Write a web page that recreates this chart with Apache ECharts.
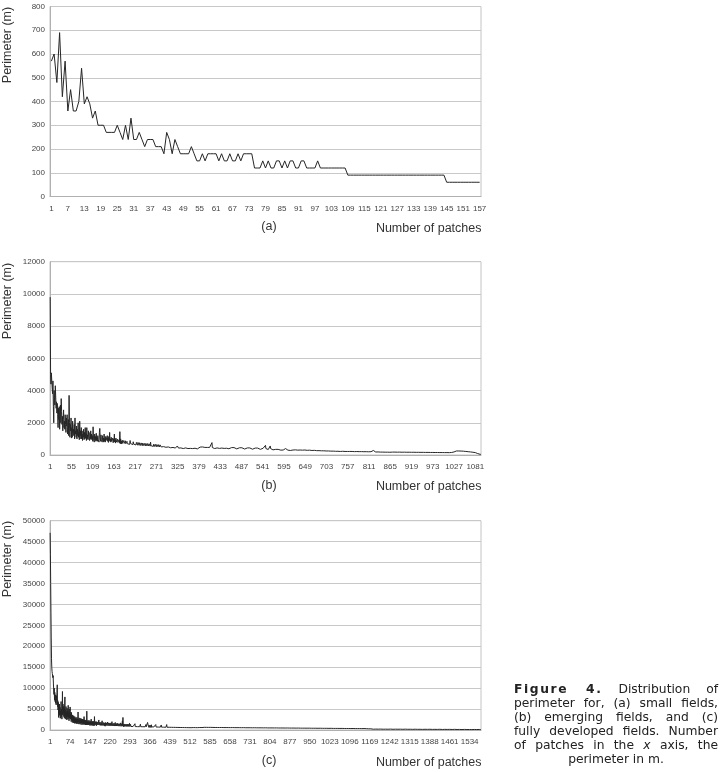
<!DOCTYPE html>
<html>
<head>
<meta charset="utf-8">
<script src="https://cdn.jsdelivr.net/npm/echarts/dist/echarts.min.js"></script>
<style>
html,body{margin:0;padding:0;background:#fff;}
#chart{position:absolute;left:0;top:0;width:721px;height:773px;}
#caption{position:absolute;left:514px;top:683px;width:204px;font-family:"DejaVu Sans",Verdana,sans-serif;font-size:12.3px;line-height:13.9px;color:#222;}
#caption div{text-align:justify;text-align-last:justify;white-space:nowrap;}
#caption div.last{text-align:center;text-align-last:center;}
</style>
</head>
<body>
<div id="chart"></div>
<div id="caption">
<div><b style="letter-spacing:1.6px">Figure 4.</b> Distribution of</div>
<div>perimeter for, (a) small fields,</div>
<div>(b) emerging fields, and (c)</div>
<div>fully developed fields. Number</div>
<div>of patches in the <i>x</i> axis, the</div>
<div class="last">perimeter in m.</div>
</div>
<script>
// Panel (a): small fields, perimeter (m) per patch
var perimA = [
570,600,480,690,420,570,360,450,360,360,
400,540,390,420,390,330,360,300,300,300,
270,270,270,270,300,270,240,300,240,330,
240,240,270,240,210,240,240,240,210,210,
210,180,270,240,180,240,210,180,180,180,
180,210,180,150,150,180,150,180,180,180,
180,150,180,150,150,180,150,150,180,150,
180,180,180,180,120,120,120,150,120,150,
120,120,150,150,120,150,120,150,150,120,
120,150,150,120,120,120,120,150,120,120,
120,120,120,120,120,120,120,120,
90,90,90,90,90,90,90,90,90,90,90,90,90,90,90,90,90,90,
90,90,90,90,90,90,90,90,90,90,90,90,90,90,90,90,90,90,
60,60,60,60,60,60,60,60,60,60,60,60,60
];
// Panel (b): emerging fields
var perimB = [
9800,5000,4400,5100,4600,4500,3800,4600,3000,2000,4000,3400,3100,4300,3600,2900,3300,2600,3200,2500,
1700,2900,2200,3000,1600,2600,3100,2000,3500,2700,1900,2400,1500,2200,2800,1700,2100,1600,2500,1900,
1400,2300,1800,2500,1300,1600,2200,1200,3700,2000,1100,1900,1500,2300,1050,1700,1100,2100,1400,1600,
1200,1900,1000,2300,1300,1500,1100,1800,1000,1600,1200,2000,1100,1400,950,2100,1200,1500,1000,1700,
1000,1500,900,1300,1100,1600,950,1400,1000,1700,1050,1300,900,1700,1000,1250,950,1500,1100,1200,
900,1400,1000,1500,950,1300,1000,1200,850,1750,1000,1100,800,1300,950,1150,850,1350,900,1100,
850,1200,950,1050,800,1400,1650,1100,850,1250,950,1000,800,1200,900,1050,800,1300,850,1000,
800,1150,900,1000,800,1200,850,1050,780,1150,900,1400,850,1000,800,1100,850,950,780,1050,
760,1000,820,1300,800,950,740,1050,800,900,720,980,780,880,700,950,760,1450,700,1000,
720,860,680,920,750,830,680,900,720,800,660,880,700,780,650,850,700,780,640,820,
700,780,660,900,720,780,650,840,700,760,640,820,680,740,630,800,670,740,620,780,
660,720,610,780,660,710,600,760,650,700,590,750,640,690,580,740,630,680,580,720,
620,670,570,720,610,660,560,710,600,650,560,700,590,640,550,800,580,630,540,680,
580,620,530,670,570,610,520,660,560,600,520,650,550,590,510,640,540,580,500,630,
540,580,500,620,530,570,490,610,520,560,480,600,510,550,480,590,500,540,470,580,
500,540,460,580,490,530,450,570,480,520,450,560,470,510,440,550,460,500,430,540,
470,520,440,560,650,500,430,540,450,490,420,530,440,480,410,520,440,470,400,510,
450,490,410,510,440,480,400,500,430,470,400,490,420,460,390,480,410,450,390,470,
440,480,400,500,430,470,390,490,420,460,390,480,410,450,380,470,400,440,380,460,
450,490,420,510,440,480,410,500,430,470,410,490,430,470,400,480,420,460,400,470,
440,480,410,490,430,470,410,480,430,460,540,770,460,480,420,470,410,460,400,470,
450,480,420,490,440,470,420,480,440,470,410,480,430,460,410,470,430,460,400,470,
440,470,410,480,430,460,400,470,420,450,400,460,420,450,390,460,420,440,390,450,
430,460,400,470,420,450,390,460,410,440,390,450,410,440,380,450,410,430,380,440,
420,450,390,460,410,440,380,450,400,430,380,440,400,430,370,440,400,420,370,430,
410,440,380,450,400,430,370,440,390,420,370,430,390,420,360,430,390,410,360,420,
400,430,370,440,390,420,360,430,380,410,360,420,380,410,350,420,380,400,350,410,
390,420,360,430,380,410,480,600,400,380,340,400,370,390,340,410,370,390,450,560,
400,360,330,380,340,360,320,370,340,350,320,360,330,350,310,360,320,340,310,350,
330,350,310,360,320,340,300,350,320,340,300,350,310,330,300,340,310,330,400,340,
310,330,290,340,300,320,290,330,300,320,280,330,300,310,280,320,290,310,280,320,
300,310,280,320,290,310,270,320,290,300,270,310,280,300,270,310,280,300,270,310,
290,300,270,310,280,300,260,310,380,290,260,300,270,290,260,300,270,290,260,300,
280,290,260,300,270,280,250,290,260,280,250,290,260,280,250,290,260,270,250,280,
260,270,240,270,250,260,230,270,240,260,230,260,240,250,230,260,240,250,230,250,
240,250,220,250,230,240,220,250,230,240,220,240,230,240,210,240,220,230,210,240,
230,240,210,240,220,230,210,240,220,230,210,230,220,230,200,230,210,220,200,230,
220,230,200,230,210,220,200,230,210,220,200,220,210,220,200,220,210,215,200,220,
210,220,200,220,210,215,195,220,205,215,195,215,205,210,195,215,200,210,195,215,
205,215,195,215,200,210,190,210,200,205,190,210,200,205,190,210,195,205,190,210,
200,210,190,205,195,205,185,205,195,200,185,205,195,200,185,205,195,200,185,205,
230,280,310,250,290,220,200,185,200,190,195,185,200,190,195,180,195,185,190,180,
190,180,185,175,190,180,185,175,190,180,185,175,185,180,180,175,185,175,180,170,
185,175,180,170,185,175,180,170,240,210,180,170,180,175,175,170,180,170,175,168,
180,170,175,168,178,170,175,165,178,170,175,165,176,168,172,165,175,168,172,164,
175,166,172,164,174,166,170,163,173,165,170,162,172,165,168,162,170,164,168,160,
170,162,168,160,170,162,166,160,168,161,165,158,168,160,165,158,166,160,164,157,
166,158,163,156,165,158,162,155,164,157,161,154,163,156,160,154,162,155,159,153,
162,154,158,152,160,154,157,151,159,152,156,150,158,152,155,150,157,151,154,149,
156,150,153,148,155,150,152,147,154,149,151,146,153,148,150,146,152,147,149,145,
152,146,149,144,151,146,148,143,150,145,147,143,149,144,146,142,150,146,152,148,
158,150,165,155,175,165,190,180,210,195,230,210,250,225,260,235,245,230,250,235,
255,230,250,225,245,230,240,220,245,225,235,215,230,215,225,210,220,205,215,200,
210,195,205,190,200,185,195,180,190,175,185,170,180,165,170,160,165,150,160,145,
150,140,130,120,110,100,90,80,70,60,55,50,45,40,40
];
// Panel (c): fully developed fields
var perimC = [
47100,42000,35000,28000,22000,17000,15000,14000,13500,13200,12500,13000,11000,9800,8500,10000,7200,9000,6800,8400,
6400,7600,6000,8200,7200,9000,10800,5600,7000,4800,6600,3000,5800,4200,6200,3500,5400,2800,4600,3800,
6800,3200,5000,2600,4400,9200,3600,6200,4000,5600,3200,5200,2800,6000,7900,3400,4800,2600,5600,3000,
4400,2400,5200,3200,4600,2600,5900,3000,4200,2200,5000,2800,3800,5500,4400,2600,3600,2000,4200,2400,
3200,1800,3600,2200,3000,1700,3400,2100,2800,1600,3200,2000,2700,1600,3000,1900,2600,1500,3000,1800,
2600,1500,4300,1900,2500,1400,2900,1800,2400,1400,2800,1700,2300,1300,2700,1700,2200,1300,2600,1600,
2200,1300,2500,1600,3200,1300,2400,1500,2100,1200,2400,1500,2000,1200,4500,1500,2000,1200,2300,1400,
2000,1200,2300,1400,1900,1100,2200,1400,1900,1100,2600,1300,1800,1100,2100,1300,1800,1000,2100,1300,
1800,1000,3200,1300,1700,1000,2000,1200,1700,1000,2000,1200,1600,950,1900,1200,1600,950,2400,1200,
1600,950,1900,1100,1500,900,1800,1100,1500,900,2200,1100,1500,900,1800,1100,1400,900,1700,1000,
1500,900,1800,1100,1400,850,1700,1050,1400,850,1900,1050,1400,850,1700,1000,1350,850,1650,1000,
1400,850,1700,1000,1350,800,2000,1000,1350,800,1600,1000,1300,800,1600,950,1300,800,1800,950,
1300,800,1550,950,1250,780,1600,950,1250,780,1500,920,1250,760,1500,920,1200,760,1700,900,
1250,760,1500,900,2200,1000,3000,1600,1200,760,1450,880,1200,740,1400,880,1150,740,1400,860,
1150,730,1400,860,1100,720,1350,850,1100,720,1600,840,1100,700,1350,840,1050,700,1300,830,
1100,700,1300,830,1050,690,1280,820,1050,690,1500,820,1050,680,1250,810,1000,680,1250,800,
1050,670,1250,800,1000,670,1220,790,1000,660,1400,790,1000,660,1200,780,980,650,1200,780,
1000,650,1180,770,960,640,1170,770,960,640,1300,760,960,630,1150,760,1800,2200,1200,760,
950,620,1130,750,940,620,1120,740,930,610,1250,740,930,610,1100,730,920,600,1100,730,
920,600,1080,720,900,590,1300,720,900,590,1070,710,890,580,1060,700,880,580,1050,700,
880,570,1040,690,870,570,1200,690,860,560,1020,680,860,560,1010,670,850,550,1000,670,
850,550,990,660,840,540,1300,660,840,540,980,650,830,530,970,650,820,530,960,640,
820,520,950,640,810,520,1100,630,800,510,940,630,800,510,930,620,790,500,920,620,
790,500,910,610,780,490,1050,610,780,490,900,600,770,480,890,600,760,480,880,590,
760,480,870,590,750,470,1000,580,750,470,860,580,740,460,850,570,740,460,840,570,
740,460,830,560,730,450,950,560,720,450,820,550,720,440,810,550,710,440,800,540,
750,480,830,580,740,470,940,570,740,470,820,570,730,460,810,560,730,460,800,560,
770,500,830,590,760,490,930,590,760,490,820,580,750,480,810,580,750,480,800,570,
800,560,860,640,780,540,940,650,790,550,850,630,770,540,840,630,770,530,830,620,
780,530,840,620,760,520,920,630,770,530,830,610,750,520,820,610,750,510,810,600,
760,520,820,600,750,510,900,610,750,510,810,600,740,500,800,600,740,500,800,590,
750,500,800,590,740,500,880,600,740,500,800,590,730,490,790,580,730,490,790,580,
740,490,790,580,730,490,870,590,730,490,790,580,720,480,780,570,720,480,780,570,
730,480,780,570,720,480,860,580,720,480,780,570,710,470,770,560,710,470,770,560,
720,470,770,560,710,470,850,570,710,470,770,560,700,460,760,550,700,460,760,550,
710,460,760,550,700,460,840,560,700,460,760,550,690,450,750,540,690,450,750,540,
700,450,750,540,690,450,830,550,690,450,750,540,680,440,740,530,680,440,740,530,
690,440,740,530,680,440,820,540,680,440,740,530,670,430,730,520,670,430,730,520,
680,430,730,520,670,430,810,530,670,430,730,520,660,420,720,510,660,420,720,510,
670,420,720,510,660,420,800,520,660,420,720,510,650,410,710,500,650,410,710,500,
660,410,710,500,650,410,790,510,650,410,710,500,640,400,700,490,640,400,700,490,
650,400,700,490,640,400,780,500,640,400,700,490,630,390,690,480,630,390,690,480,
640,390,690,480,630,390,770,490,630,390,690,480,620,380,680,470,620,380,680,470,
630,380,680,470,620,380,760,480,620,380,680,470,610,370,670,460,610,370,670,460,
620,370,670,460,610,370,750,470,610,370,670,460,600,360,660,450,600,360,660,450,
610,360,660,450,600,360,740,460,600,360,660,450,590,350,650,440,590,350,650,440,
600,350,650,440,590,350,730,450,590,350,650,440,580,340,640,430,580,340,640,430,
590,340,640,430,580,340,720,440,580,340,640,430,570,330,630,420,570,330,630,420,
580,330,630,420,570,330,710,430,570,330,630,420,560,320,620,410,560,320,620,410,
570,320,620,410,560,320,700,420,560,320,620,410,550,310,610,400,550,310,610,400,
560,310,610,400,550,310,690,410,550,310,610,400,540,300,600,390,540,300,600,390,
550,300,600,390,540,300,680,400,540,300,600,390,530,290,590,380,530,290,590,380,
540,290,590,380,530,290,670,390,530,290,590,380,520,280,580,370,520,280,580,370,
530,280,580,370,520,280,660,380,520,280,580,370,510,270,570,360,510,270,570,360,
520,270,570,360,510,270,650,370,510,270,570,360,500,260,560,350,500,260,560,350,
510,260,560,350,500,260,640,360,500,260,560,350,490,250,550,340,490,250,550,340,
500,250,550,340,490,250,630,350,490,250,550,340,480,240,540,330,480,240,540,330,
480,240,530,330,470,240,600,340,470,240,520,330,450,230,500,320,440,230,480,300,
420,230,450,290,380,220,400,260,330,210,320,240,280,200,260,220,240,200,230,210,
220,190,215,200,230,185,210,195,225,190,215,200,205,185,220,195,210,190,225,200,
215,185,210,195,225,185,205,190,220,185,210,195,200,180,215,190,205,185,220,195,
210,180,205,190,220,180,200,185,215,180,205,190,195,175,210,185,200,180,215,190,
205,175,200,185,215,175,195,180,210,175,200,185,190,170,205,180,195,175,210,185,
200,170,195,180,210,170,190,175,205,170,195,180,185,165,200,175,190,170,205,180,
195,165,190,175,205,165,185,170,200,165,190,175,180,160,195,170,185,165,200,175,
190,160,185,170,200,160,180,165,195,160,185,170,175,155,190,165,180,160,195,170,
185,155,180,165,195,155,175,160,190,155,180,165,170,150,185,160,175,155,190,165,
180,150,175,160,190,150,170,155,185,150,175,160,165,145,180,155,170,150,185,160,
175,145,170,155,185,145,165,150,180,145,170,155,160,140,175,150,165,145,180,155,
170,140,165,150,180,140,160,145,175,140,165,150,155,135,170,145,160,140,175,150,
165,135,160,145,175,135,155,140,170,135,160,145,150,130,165,140,155,135,170,145,
160,130,155,140,170,130,150,135,165,130,155,140,145,125,160,135,150,130,165,140,
155,125,150,135,165,125,145,130,160,125,150,135,140,120,155,130,145,125,160,135,
150,120,145,130,160,120,140,125,155,120,145,130,135,115,150,125,140,120,155,130,
145,115,140,125,155,115,135,120,150,115,140,125,130,110,145,120,135,115,150,125,
140,110,135,120,150,110,130,115,145,110,135,120,125,105,140,115,130,110,145,120,
135,105,130,115,145,105,125,110,140,105,130,115,120,100,135,110,125,105,140,115,
130,100,125,110,140,100,120,105,135,100,125,110,115,95,130,105,120,100,135,110,
125,95,120,105,135,95,115,100,130,95,110,100,90,80,70
];
// y-axis ranges and tick steps
var yMax = [800, 12000, 50000];
var yStep = [100, 2000, 5000];
// x-axis label step (every n-th patch number)
var xLabelEvery = [6, 54, 73];
var panelTags = ['(a)', '(b)', '(c)'];
var yTitle = 'Perimeter (m)';
var xTitle = 'Number of patches';

function patchNumbers(arr) {
  var c = [];
  for (var i = 0; i < arr.length; i++) c.push(String(i + 1));
  return c;
}

var series = [perimA, perimB, perimC];
var grids = [
  {left: 50, top: 6.5, width: 431, height: 190},
  {left: 50, top: 261.7, width: 431, height: 193.3},
  {left: 50, top: 520.7, width: 431, height: 209.3}
];
var tagY = [226.5, 485.5, 760.5];
var numY = [228.5, 486.5, 762.5];
var titleY = [45, 301, 559];

var labelFont = 'Liberation Sans, Arial, sans-serif';
var option = {
  animation: false,
  backgroundColor: '#fff',
  grid: grids.map(function (g) {
    return Object.assign({show: true, borderColor: '#c4c4c4', borderWidth: 1, backgroundColor: 'transparent'}, g);
  }),
  xAxis: series.map(function (s, k) {
    return {
      type: 'category', gridIndex: k, data: patchNumbers(s), boundaryGap: true,
      axisLine: {show: true, lineStyle: {color: '#b0b0b0', width: 1}},
      axisTick: {show: false},
      axisLabel: {interval: xLabelEvery[k] - 1, fontSize: 8, color: '#444', margin: 8, fontFamily: labelFont}
    };
  }),
  yAxis: series.map(function (s, k) {
    return {
      type: 'value', gridIndex: k, min: 0, max: yMax[k], interval: yStep[k],
      axisLine: {show: true, lineStyle: {color: '#b0b0b0', width: 1}},
      axisTick: {show: false},
      splitLine: {show: true, lineStyle: {color: '#c8c8c8', width: 1}},
      axisLabel: {fontSize: 8, color: '#444', margin: 5, fontFamily: labelFont,
        formatter: function (v) { return String(v); }}
    };
  }),
  series: series.map(function (s, k) {
    return {
      type: 'line', xAxisIndex: k, yAxisIndex: k, data: s,
      showSymbol: false, symbol: 'none', silent: true,
      lineStyle: {color: '#262626', width: 1}
    };
  }),
  graphic: []
};
for (var k = 0; k < 3; k++) {
  option.graphic.push({
    type: 'text', x: 8, y: titleY[k], rotation: Math.PI / 2,
    style: {text: yTitle, font: '12.5px ' + labelFont, fill: '#333',
      textAlign: 'center', textVerticalAlign: 'middle', align: 'center', verticalAlign: 'middle'}
  });
  option.graphic.push({
    type: 'text', x: 269, y: tagY[k],
    style: {text: panelTags[k], font: '12.5px ' + labelFont, fill: '#333',
      textAlign: 'center', textVerticalAlign: 'middle', align: 'center', verticalAlign: 'middle'}
  });
  option.graphic.push({
    type: 'text', x: 481.5, y: numY[k],
    style: {text: xTitle, font: '12.5px ' + labelFont, fill: '#333',
      textAlign: 'right', textVerticalAlign: 'middle', align: 'right', verticalAlign: 'middle'}
  });
}
var chart = echarts.init(document.getElementById('chart'), null, {renderer: 'canvas'});
chart.setOption(option);
</script>
</body>
</html>
